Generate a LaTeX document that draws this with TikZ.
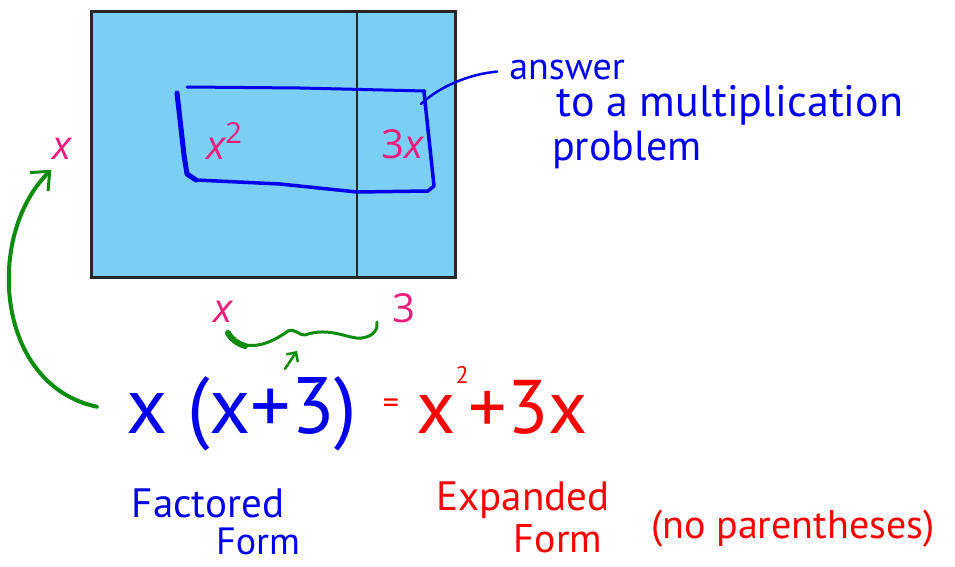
\documentclass[tikz,border=0pt]{standalone}
\usepackage{fontspec}
\setmainfont{PT Sans}
\newfontfamily\labelfont{Open Sans}
\usetikzlibrary{arrows.meta}
\definecolor{areablue}{RGB}{124,207,244}
\definecolor{labelpink}{RGB}{236,28,124}
\definecolor{penblue}{RGB}{0,0,238}
\definecolor{penred}{RGB}{250,0,0}
\definecolor{pengreen}{RGB}{14,140,14}

\begin{document}
\begin{tikzpicture}[x=1pt,y=-1pt,
    lbl/.style={text=labelpink,font=\labelfont\fontsize{40}{44}\selectfont,inner sep=0pt,anchor=base},
    hand/.style={font=\fontsize{42}{46}\selectfont,inner sep=0pt,anchor=base},
    big/.style={font=\fontsize{80}{84}\selectfont,inner sep=0pt,anchor=base},
    pen/.style={line cap=round,line join=round}]
    \useasboundingbox (0,0) rectangle (955,567);
    \draw[fill=areablue,draw=black!85,line width=3pt] (91,12) rectangle (455,277);
    \draw[black!85,line width=2.5pt] (357,12) -- (357,277);

    \node[lbl] (lx) at (62,159) {\itshape x};
    \node[lbl] (xsq) at (224,159) {\itshape x\raisebox{16pt}{\upshape\fontsize{29}{30}\selectfont 2}};
    \node[lbl] (thx) at (403,158) {3\itshape x};
    \node[lbl] (bx) at (223,322) {\itshape x};
    \node[lbl] (bthree) at (404,322) {3};

    % the hand drawn box
    \draw[pen,penblue,line width=3pt] (187,87) -- (300,88) -- (425,91);
    \draw[pen,penblue,line width=5pt] (177,93) -- (184,155) -- (187,174) -- (196,180);
    \draw[pen,penblue,line width=3.5pt] (196,180) -- (280,184) -- (357,192) -- (428,191) -- (434,186) -- (424,92);
    \coordinate (hook) at (421,104);

    \node[hand,text=penblue,font=\fontsize{38}{40}\selectfont] (ansa) at (567,80) {answer};
    \node[hand,text=penblue,font=\fontsize{44}{46}\selectfont] (ansb) at (730,117) {to a multiplication};
    \node[hand,text=penblue,font=\fontsize{42}{44}\selectfont] (ansc) at (627,160) {problem};
    \draw[pen,penblue,line width=2.5pt,shorten <=12pt] (ansa.west) .. controls (470,74) and (440,86) .. (hook);

    % brace under x and 3
    \draw[pen,pengreen,line width=3pt] (228,333) .. controls (240,350) and (262,350) .. (288,331)
        .. controls (295,328) and (300,336) .. (305,335) .. controls (330,326) and (350,340) .. (362,338)
        .. controls (375,336) and (378,328) .. (377,322);
    \draw[pen,pengreen,line width=6pt] (228,333) .. controls (232,340) and (238,344) .. (245,346);
    \coordinate (bracetip) at (297,351);

    \node[big,text=penblue] (eqx) at (147,433) {x};
    \node[big,text=penblue] (eqpar) at (272,433) {(x+3)};
    \node[hand,text=penred,font=\fontsize{32}{34}\selectfont] (eqeq) at (391,413) {=};
    \node[big,text=penred,font=\fontsize{76}{80}\selectfont] (eqexp) at (502,433) {x\raisebox{50pt}{\fontsize{24}{26}\selectfont 2}+3x};

    \draw[pen,pengreen,line width=4pt,shorten <=30pt,shorten >=15pt,-{Straight Barb[length=15pt,width=26pt,line width=3pt]}]
        (eqx.west) .. controls (-5,385) and (-15,235) .. (lx.south);
    \draw[pen,pengreen,line width=2.5pt,-{Straight Barb[length=7pt,width=14pt]}] ([xshift=13pt,yshift=7pt]eqpar.north) -- (bracetip);

    \node[hand,text=penblue,font=\fontsize{41}{46}\selectfont] (facta) at (208,517) {Factored};
    \node[hand,text=penblue,font=\fontsize{38}{42}\selectfont] (factb) at (258,554) {Form};
    \node[hand,text=penred,font=\fontsize{41}{44}\selectfont] (expa) at (523,510) {Expanded};
    \node[hand,text=penred,font=\fontsize{40}{44}\selectfont] (expb) at (558,552) {Form};
    \node[hand,text=penred,font=\fontsize{40}{44}\selectfont] (nopar) at (793,538) {(no parentheses)};
\end{tikzpicture}
\end{document}
